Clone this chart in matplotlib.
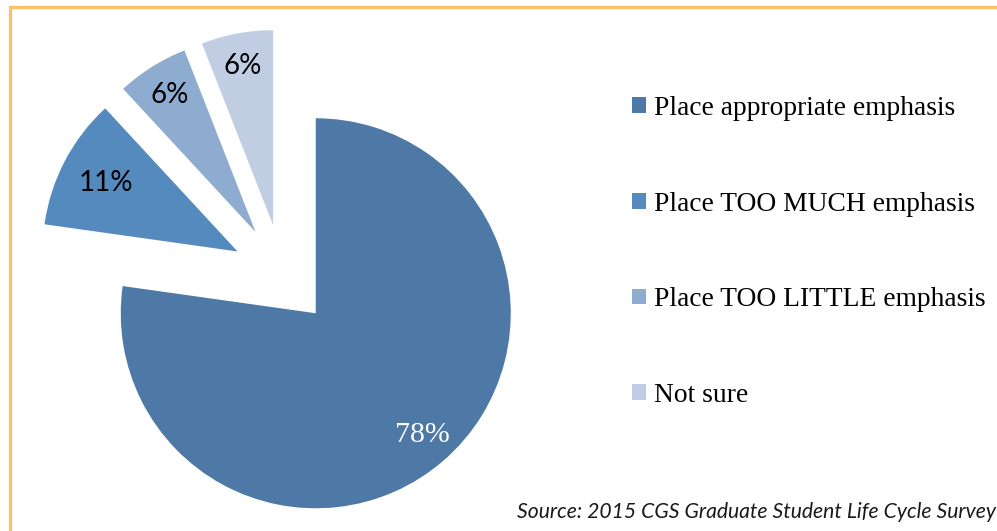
import numpy as np
import matplotlib.pyplot as plt
from matplotlib.patches import Patch, Rectangle

# Survey answers (percent shown on the chart)
categories = ["Place appropriate emphasis", "Place TOO MUCH emphasis",
              "Place TOO LITTLE emphasis", "Not sure"]
values = [78, 11, 6, 6]
pct_labels = ["78%", "11%", "6%", "6%"]
colors = ["#4E79A6", "#548ABE", "#8EABD0", "#C0CDE3"]
source = "Source: 2015 CGS Graduate Student Life Cycle Survey"

W, H = 997, 531
fig = plt.figure(figsize=(W / 100, H / 100), dpi=100)
ax = fig.add_axes([0, 0, 1, 1])

# -----------------------------
# Pie
# -----------------------------
explode = 0.26
wedges, texts, autotexts = ax.pie(
    values,
    colors=colors,
    startangle=90,
    counterclock=False,
    explode=[explode] * len(values),
    autopct="%1.0f%%",
    pctdistance=0.82,
    wedgeprops=dict(linewidth=0),
)
label_dist = [0.83, 0.76, 0.83, 0.83]
for i, (t, w, lab) in enumerate(zip(autotexts, wedges, pct_labels)):
    t.set_text(lab)
    mid = np.deg2rad((w.theta1 + w.theta2) / 2)
    cx0, cy0 = w.center
    t.set_position((cx0 + label_dist[i] * np.cos(mid),
                    cy0 + label_dist[i] * np.sin(mid)))
    if i == 0:
        t.set_color("white")
        t.set_family("Liberation Serif")
        t.set_fontsize(21.5)
    else:
        t.set_color("black")
        t.set_family("Lato")
        t.set_fontsize(20)

# place the pie: centre at (282, 275) px from top-left, radius 195 px
cx, cy, r = 282.5, 275, 195
ax.set_aspect("auto")
ax.set_xlim(-cx / r, (W - cx) / r)
ax.set_ylim(-(H - cy) / r, cy / r)
ax.axis("off")

# -----------------------------
# Legend
# -----------------------------
handles = [Patch(facecolor=c, edgecolor="none") for c in colors]
leg = fig.legend(
    handles, categories,
    loc="upper left",
    bbox_to_anchor=(632 / W, 1 - 96 / H),
    frameon=False,
    prop={"family": "Liberation Serif", "size": 19.8},
    handlelength=0.5, handleheight=0.5,
    handletextpad=0.3,
    labelspacing=2.57,
    borderaxespad=0, borderpad=0,
)

# Source note
fig.text(517 / W, 1 - 512 / H, source, fontsize=15.2, style="italic",
         family="Lato", color="#1a1a1a", va="center", ha="left")

# Orange frame (only top and left edges visible)
fig.add_artist(Rectangle((9.5 / W, -0.2), 1.2, 1.2 - 7 / H,
                         transform=fig.transFigure, fill=False,
                         edgecolor="#FDC068", linewidth=2.3))

fig.savefig("out.png", dpi=100)
